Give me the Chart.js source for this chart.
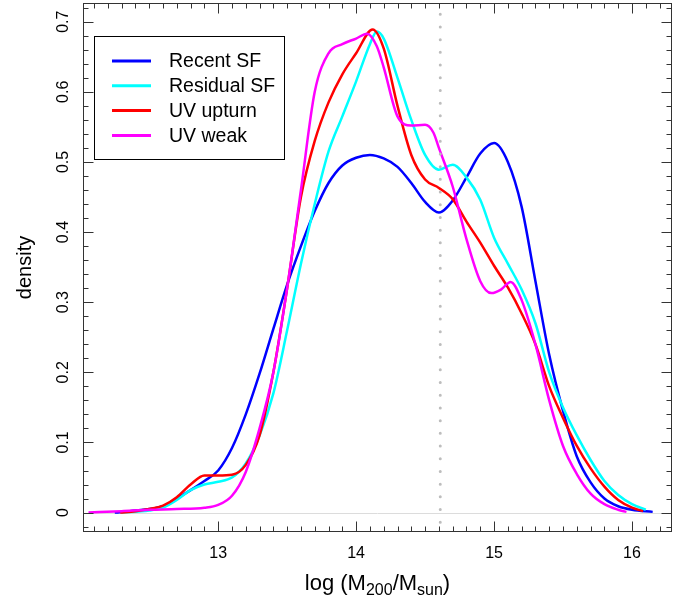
<!DOCTYPE html>
<html>
<head>
<meta charset="utf-8">
<script src="https://cdn.jsdelivr.net/npm/chart.js@4.4.1/dist/chart.umd.min.js"></script>
<style>
  html, body { margin: 0; padding: 0; background: #fff; }
</style>
</head>
<body>
<canvas id="chart" width="692" height="603"></canvas>
<script>
/* ---- data ---- */
const seriesNames  = ['Recent SF', 'Residual SF', 'UV upturn', 'UV weak'];
const seriesColors = ['#0000ff', '#00ffff', '#ff0000', '#ff00ff'];

const recentX = [12.25,12.4,12.6,12.7,12.8,12.9,13.0,13.1,13.2,13.3,13.4,13.5,13.6,13.7,13.8,13.9,14.0,14.1,14.2,14.3,14.4,14.5,14.6,14.7,14.8,14.9,15.0,15.1,15.2,15.3,15.4,15.5,15.6,15.7,15.8,15.9,16.0,16.15];
const recentY = [0,0.003,0.009,0.02,0.032,0.045,0.06,0.092,0.14,0.198,0.262,0.325,0.38,0.43,0.47,0.495,0.506,0.51,0.505,0.493,0.47,0.443,0.428,0.445,0.478,0.512,0.527,0.5,0.436,0.33,0.225,0.145,0.08,0.043,0.02,0.009,0.004,0.001];

const residualX = [12.3,12.5,12.6,12.7,12.8,12.9,13.0,13.1,13.2,13.3,13.4,13.5,13.6,13.7,13.8,13.9,14.0,14.1,14.15,14.2,14.3,14.4,14.5,14.6,14.7,14.8,14.9,15.0,15.1,15.2,15.3,15.4,15.5,15.6,15.7,15.8,15.9,16.0,16.1];
const residualY = [0,0.003,0.007,0.018,0.032,0.04,0.044,0.05,0.07,0.11,0.17,0.26,0.355,0.44,0.515,0.565,0.615,0.668,0.686,0.676,0.62,0.56,0.51,0.489,0.496,0.478,0.446,0.392,0.355,0.318,0.27,0.2,0.15,0.11,0.075,0.045,0.025,0.012,0.004];

const upturnX = [12.29,12.4,12.5,12.6,12.7,12.8,12.9,13.0,13.1,13.2,13.3,13.4,13.5,13.6,13.7,13.8,13.9,14.0,14.12,14.2,14.3,14.4,14.5,14.6,14.7,14.8,14.9,15.0,15.1,15.2,15.3,15.4,15.5,15.6,15.7,15.8,15.9,16.0,16.08];
const upturnY = [0,0.002,0.005,0.01,0.022,0.04,0.053,0.053,0.054,0.068,0.11,0.2,0.32,0.45,0.53,0.585,0.625,0.655,0.689,0.662,0.58,0.51,0.475,0.463,0.447,0.415,0.385,0.352,0.321,0.284,0.24,0.18,0.135,0.095,0.063,0.037,0.018,0.007,0.002];

const weakX = [12.06,12.3,12.5,12.7,12.9,13.0,13.1,13.2,13.3,13.4,13.5,13.6,13.7,13.8,13.9,14.0,14.08,14.15,14.2,14.3,14.4,14.5,14.56,14.6,14.7,14.8,14.9,14.98,15.05,15.12,15.2,15.3,15.4,15.5,15.6,15.7,15.8,15.9,15.96];
const weakY = [0,0.002,0.004,0.005,0.007,0.011,0.024,0.058,0.12,0.2,0.32,0.46,0.6,0.655,0.668,0.676,0.683,0.665,0.635,0.565,0.552,0.553,0.542,0.52,0.465,0.39,0.33,0.313,0.318,0.329,0.303,0.24,0.16,0.095,0.055,0.027,0.012,0.004,0.001];

const cutLine = 14.61;                       // dotted vertical marker

const xMajor = [13, 14, 15, 16];
const yMajor = [0, 0.1, 0.2, 0.3, 0.4, 0.5, 0.6, 0.7];
const yLabels = ['0', '0.1', '0.2', '0.3', '0.4', '0.5', '0.6', '0.7'];

/* ---- helpers ---- */
const FONT = '"Liberation Sans", Arial, Helvetica, sans-serif';
const toPts = (xs, ys) => xs.map((x, i) => ({ x, y: ys[i] }));
const range = (a, b, s) => { const out = []; for (let v = a; v <= b + 1e-9; v += s) out.push(+v.toFixed(3)); return out; };
const xMinor = range(12.1, 16.2, 0.1);
const yMinor = range(-0.02, 0.72, 0.02);

const curves = [[recentX, recentY], [residualX, residualY], [upturnX, upturnY], [weakX, weakY]];

/* ---- frame, ticks, labels, legend ---- */
const frame = {
  id: 'frame',
  beforeDatasetsDraw(chart) {
    const { ctx, chartArea: a, scales: { y } } = chart;
    const py = Math.round(y.getPixelForValue(0)) + 0.5;
    ctx.save();
    ctx.strokeStyle = '#dcdcdc';
    ctx.lineWidth = 1;
    ctx.beginPath(); ctx.moveTo(a.left, py); ctx.lineTo(a.right, py); ctx.stroke();
    ctx.restore();
  },
  afterDatasetsDraw(chart) {
    const { ctx, chartArea: a, scales: { x, y } } = chart;
    ctx.save();
    ctx.strokeStyle = '#333';
    ctx.lineWidth = 1;
    const L = Math.round(a.left) + 0.5, R = Math.round(a.right) - 0.5;
    const T = Math.round(a.top) + 0.5, B = Math.round(a.bottom) - 0.5;
    ctx.strokeRect(L, T, R - L, B - T);

    const tick = (x1, y1, x2, y2) => { ctx.beginPath(); ctx.moveTo(x1, y1); ctx.lineTo(x2, y2); ctx.stroke(); };
    const xt = (v, len) => { const p = Math.round(x.getPixelForValue(v)) + 0.5; tick(p, B, p, B - len); tick(p, T, p, T + len); };
    const yt = (v, len) => { const p = Math.round(y.getPixelForValue(v)) + 0.5; tick(L, p, L + len, p); tick(R, p, R - len, p); };
    xMinor.forEach(v => xt(v, 5));
    xMajor.forEach(v => xt(v, 10));
    yMinor.forEach(v => yt(v, 5));
    yMajor.forEach(v => yt(v, 10));

    // tick labels
    ctx.fillStyle = '#000';
    ctx.font = `16px ${FONT}`;
    ctx.textAlign = 'center';
    ctx.textBaseline = 'alphabetic';
    xMajor.forEach(v => ctx.fillText(String(v), x.getPixelForValue(v), 558));
    yMajor.forEach((v, i) => {
      ctx.save();
      ctx.translate(68, y.getPixelForValue(v));
      ctx.rotate(-Math.PI / 2);
      ctx.fillText(yLabels[i], 0, 0);
      ctx.restore();
    });

    // axis titles
    ctx.font = `20px ${FONT}`;
    ctx.save();
    ctx.translate(31, (a.top + a.bottom) / 2);
    ctx.rotate(-Math.PI / 2);
    ctx.fillText('density', 0, 0);
    ctx.restore();

    const parts = [['log (M', 22, 0], ['200', 16, 5], ['/M', 22, 0], ['sun', 16, 5], [')', 22, 0]];
    const widths = parts.map(([t, s]) => { ctx.font = `${s}px ${FONT}`; return ctx.measureText(t).width; });
    let cx = (a.left + a.right) / 2 - widths.reduce((s, w) => s + w, 0) / 2;
    ctx.textAlign = 'left';
    parts.forEach(([t, s, dy], i) => {
      ctx.font = `${s}px ${FONT}`;
      ctx.fillText(t, cx, 590 + dy);
      cx += widths[i];
    });

    // legend
    ctx.strokeStyle = '#000';
    ctx.strokeRect(94.5, 36.5, 190, 123);
    ctx.font = `19.5px ${FONT}`;
    ctx.textBaseline = 'middle';
    seriesNames.forEach((name, i) => {
      const ly = 61 + i * 24.8;
      ctx.strokeStyle = seriesColors[i];
      ctx.lineWidth = 3;
      tick(112, ly, 151, ly);
      ctx.fillStyle = '#000';
      ctx.fillText(name, 169, ly + 1);
    });
    ctx.restore();
  }
};

/* ---- chart ---- */
const datasets = curves.map(([xs, ys], i) => ({
  label: seriesNames[i],
  data: toPts(xs, ys),
  borderColor: seriesColors[i],
  borderWidth: 2.5,
  pointRadius: 0,
  cubicInterpolationMode: 'monotone',
  fill: false,
  order: 4 - i
}));
datasets.push({
  label: 'cut',
  data: [{ x: cutLine, y: -0.05 }, { x: cutLine, y: 0.75 }],
  borderColor: '#bdbdbd',
  borderWidth: 3,
  borderDash: [0, 12.7],
  borderCapStyle: 'round',
  pointRadius: 0,
  order: 0
});

new Chart(document.getElementById('chart'), {
  type: 'line',
  data: { datasets },
  options: {
    responsive: false,
    animation: false,
    layout: { padding: { left: 83, right: 20, top: 3, bottom: 71 } },
    plugins: { legend: { display: false }, tooltip: { enabled: false } },
    scales: {
      x: { type: 'linear', min: 12.02, max: 16.29, display: false },
      y: { type: 'linear', min: -0.0277, max: 0.7267, display: false }
    }
  },
  plugins: [frame]
});
</script>
</body>
</html>
